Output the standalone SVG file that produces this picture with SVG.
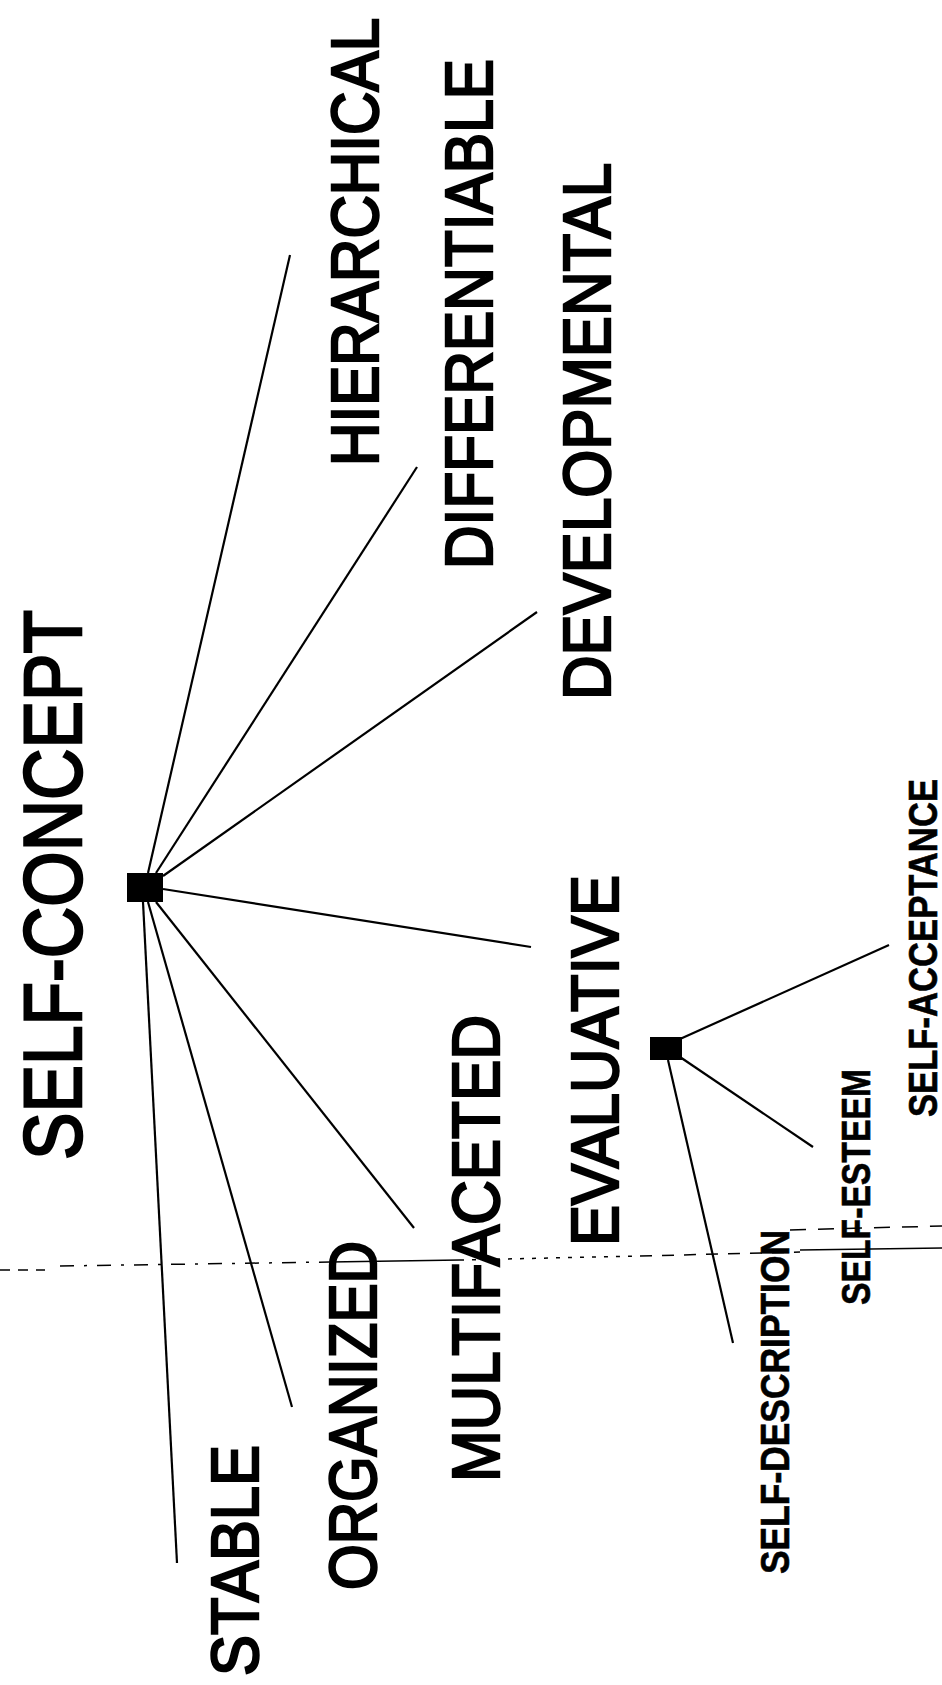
<svg xmlns="http://www.w3.org/2000/svg" width="942" height="1685" viewBox="0 0 942 1685">
<style>
.big{font-family:"Liberation Sans",Arial,sans-serif;font-size:66px;fill:#000;stroke:#000;stroke-width:2.4}
.title{font-family:"Liberation Sans",Arial,sans-serif;font-size:82px;fill:#000;stroke:#000;stroke-width:2.6}
.small{font-family:"Liberation Sans",Arial,sans-serif;font-size:40px;font-weight:bold;fill:#000;stroke:#000;stroke-width:0.6}
.conn line{stroke:#000;stroke-width:2.2}
.art line{stroke:#000;stroke-width:1.5}
</style>
<rect width="942" height="1685" fill="#fff"/>
<g id="artifacts" class="art">
<line x1="0" y1="1270" x2="45" y2="1270" stroke-dasharray="10,8"/>
<line x1="60" y1="1266" x2="330" y2="1262" stroke-dasharray="14,10,3,10"/>
<line x1="330" y1="1262" x2="460" y2="1260"/>
<line x1="460" y1="1260" x2="640" y2="1256" stroke-dasharray="4,8"/>
<line x1="640" y1="1256" x2="800" y2="1252" stroke-dasharray="12,10"/>
<line x1="800" y1="1250" x2="942" y2="1248"/>
<line x1="790" y1="1230" x2="942" y2="1226" stroke-dasharray="16,12"/>
</g>
<g id="connectors" class="conn">
<line x1="148" y1="873" x2="290" y2="255"/>
<line x1="156" y1="873" x2="417" y2="467"/>
<line x1="163" y1="876" x2="537" y2="612"/>
<line x1="163" y1="889" x2="531" y2="947"/>
<line x1="156" y1="902" x2="414" y2="1228"/>
<line x1="148" y1="902" x2="292" y2="1407"/>
<line x1="143" y1="902" x2="177" y2="1563"/>
<line x1="680" y1="1039" x2="889" y2="945"/>
<line x1="680" y1="1057" x2="813" y2="1147"/>
<line x1="668" y1="1060" x2="733" y2="1343"/>
</g>
<g id="self-concept">
<rect x="127" y="873" width="36" height="29" fill="#000"/>
<text class="title" transform="translate(81,1160) rotate(-90)" textLength="550" lengthAdjust="spacingAndGlyphs">SELF-CONCEPT</text>
</g>
<g id="hierarchical"><text class="big" transform="translate(378,466) rotate(-90) scale(0.912,1)">HIERARCHICAL</text></g>
<g id="differentiable"><text class="big" transform="translate(492,569) rotate(-90)" textLength="510" lengthAdjust="spacingAndGlyphs">DIFFERENTIABLE</text></g>
<g id="developmental"><text class="big" transform="translate(610,700) rotate(-90)" textLength="537" lengthAdjust="spacingAndGlyphs">DEVELOPMENTAL</text></g>
<g id="evaluative">
<rect x="650" y="1037" width="32" height="23" fill="#000"/>
<text class="big" transform="translate(618,1246) rotate(-90)" textLength="371" lengthAdjust="spacingAndGlyphs">EVALUATIVE</text>
</g>
<g id="multifaceted"><text class="big" transform="translate(499,1482) rotate(-90)" textLength="467" lengthAdjust="spacingAndGlyphs">MULTIFACETED</text></g>
<g id="organized"><text class="big" transform="translate(376,1590) rotate(-90)" textLength="349" lengthAdjust="spacingAndGlyphs">ORGANIZED</text></g>
<g id="stable"><text class="big" transform="translate(258,1676) rotate(-90)" textLength="231" lengthAdjust="spacingAndGlyphs">STABLE</text></g>
<g id="self-acceptance"><text class="small" transform="translate(937,1117) rotate(-90)" textLength="338" lengthAdjust="spacingAndGlyphs">SELF-ACCEPTANCE</text></g>
<g id="self-esteem"><text class="small" transform="translate(870,1305) rotate(-90)" textLength="236" lengthAdjust="spacingAndGlyphs">SELF-ESTEEM</text></g>
<g id="self-description"><text class="small" transform="translate(789,1574) rotate(-90)" textLength="344" lengthAdjust="spacingAndGlyphs">SELF-DESCRIPTION</text></g>
</svg>
